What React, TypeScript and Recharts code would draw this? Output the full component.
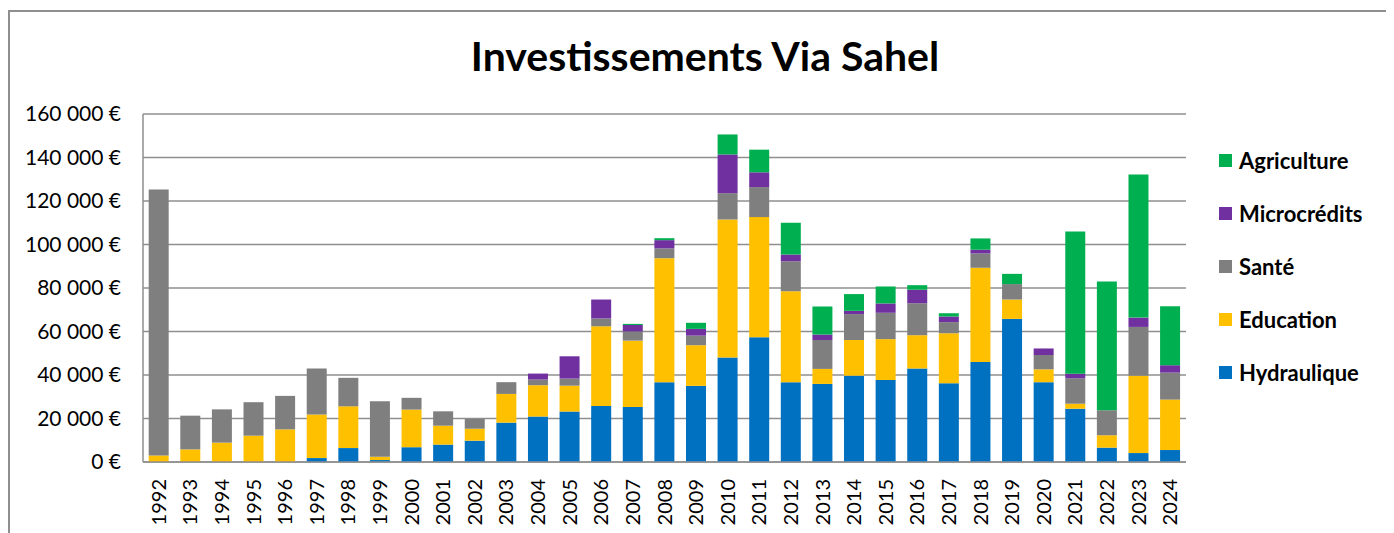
import React from "react";
import { BarChart, Bar, XAxis, YAxis, CartesianGrid } from "recharts";

const years = [
  "1992", "1993", "1994", "1995", "1996", "1997", "1998", "1999", "2000", "2001", "2002",
  "2003", "2004", "2005", "2006", "2007", "2008", "2009", "2010", "2011", "2012", "2013",
  "2014", "2015", "2016", "2017", "2018", "2019", "2020", "2021", "2022", "2023", "2024",
];

const hydraulique = [
  0, 0, 0, 0, 0, 1800, 6400, 900, 6800, 8000, 9800,
  18100, 20900, 23200, 25800, 25300, 36700, 35000, 48000, 57400, 36700, 35900,
  39700, 37700, 43000, 36200, 46000, 65800, 36700, 24500, 6600, 4100, 5500,
];

const education = [
  3000, 5800, 8900, 12100, 15000, 20000, 19200, 1500, 17300, 8700, 5500,
  13200, 14400, 11900, 36600, 30500, 57000, 18700, 63500, 55200, 41800, 6900,
  16400, 18800, 15300, 23000, 43300, 8900, 5900, 2300, 5700, 35600, 23200,
];

const sante = [
  122300, 15500, 15300, 15400, 15400, 21200, 13100, 25500, 5400, 6600, 4500,
  5400, 2600, 3250, 3600, 4200, 4500, 4400, 12100, 13800, 13800, 13300,
  11900, 12100, 14700, 5100, 6600, 7100, 6600, 11700, 11500, 22400, 12400,
];

const microcredits = [
  0, 0, 0, 0, 0, 0, 0, 0, 0, 0, 0,
  0, 2750, 10250, 8700, 3000, 3800, 3100, 17800, 6800, 3100, 2500,
  1500, 4300, 6200, 2600, 1700, 0, 3000, 2100, 0, 4300, 3400,
];

const agriculture = [
  0, 0, 0, 0, 0, 0, 0, 0, 0, 0, 0,
  0, 0, 0, 0, 500, 900, 2800, 9200, 10400, 14600, 12900,
  7700, 7800, 2100, 1500, 5200, 4700, 0, 65400, 59200, 65800, 27100,
];

const yTicks = [0, 20000, 40000, 60000, 80000, 100000, 120000, 140000, 160000];

// stacking order bottom -> top
const series = [
  { key: "hydraulique", name: "Hydraulique", color: "#0070C0", values: hydraulique },
  { key: "education", name: "Education", color: "#FFC000", values: education },
  { key: "sante", name: "Santé", color: "#7F7F7F", values: sante },
  { key: "microcredits", name: "Microcrédits", color: "#7030A0", values: microcredits },
  { key: "agriculture", name: "Agriculture", color: "#00B050", values: agriculture },
];

const data = years.map((year, i) => {
  const row: Record<string, string | number> = { year };
  series.forEach((s) => {
    row[s.key] = s.values[i];
  });
  return row;
});

const FONT = "Lato, 'Open Sans', sans-serif";
const GRID = "#8f8f8f";

const formatEuro = (v: number) =>
  v === 0 ? "0 €" : `${v.toString().replace(/\B(?=(\d{3})+(?!\d))/g, " ")} €`;

function YearTick(props: any) {
  const { x, y, payload } = props;
  return (
    <g transform={`translate(${x},${y + 9})`}>
      <text
        x={0}
        y={0}
        dy="0.35em"
        textAnchor="end"
        transform="rotate(-90)"
        fill="#000"
        fontSize={20}
        fontFamily={FONT}
      >
        {payload.value}
      </text>
    </g>
  );
}

export default function App() {
  return (
    <div
      style={{
        position: "relative",
        marginTop: 2,
        width: 1386,
        height: 523,
        borderTop: `2px solid ${GRID}`,
        borderLeft: `2px solid ${GRID}`,
        boxSizing: "border-box",
        fontFamily: FONT,
      }}
    >
      <style>{`body{overflow:hidden}`}</style>
      <div
        style={{
          position: "absolute",
          left: 295,
          top: 23,
          width: 800,
          textAlign: "center",
          fontSize: 41,
          lineHeight: "41px",
          fontWeight: 700,
          color: "#000",
        }}
      >
        Investissements Via Sahel
      </div>

      <BarChart
        width={1384}
        height={521}
        data={data}
        margin={{ top: 102, right: 208, left: 0, bottom: 0 }}
        barCategoryGap="18%"
      >
        <CartesianGrid horizontal vertical={false} stroke={GRID} strokeWidth={1.5} />
        <XAxis
          dataKey="year"
          interval={0}
          tickLine={false}
          axisLine={{ stroke: GRID, strokeWidth: 1.5 }}
          height={71}
          tick={<YearTick />}
        />
        <YAxis
          width={133}
          domain={[0, 160000]}
          ticks={yTicks}
          tickFormatter={formatEuro}
          tickLine={false}
          tickMargin={16}
          axisLine={{ stroke: GRID, strokeWidth: 1.5 }}
          tick={{ fill: "#000", fontSize: 21, fontFamily: FONT }}
        />
        {series.map((s) => (
          <Bar
            key={s.key}
            dataKey={s.key}
            name={s.name}
            stackId="inv"
            fill={s.color}
            isAnimationActive={false}
          />
        ))}
      </BarChart>

      <div style={{ position: "absolute", left: 1209, top: 122 }}>
        {[...series].reverse().map((s) => (
          <div
            key={s.key}
            style={{ height: 53, display: "flex", alignItems: "center" }}
          >
            <span
              style={{
                display: "inline-block",
                width: 13,
                height: 13,
                background: s.color,
                marginRight: 7,
              }}
            />
            <span style={{ fontSize: 22, fontWeight: 700, color: "#000" }}>{s.name}</span>
          </div>
        ))}
      </div>
    </div>
  );
}
